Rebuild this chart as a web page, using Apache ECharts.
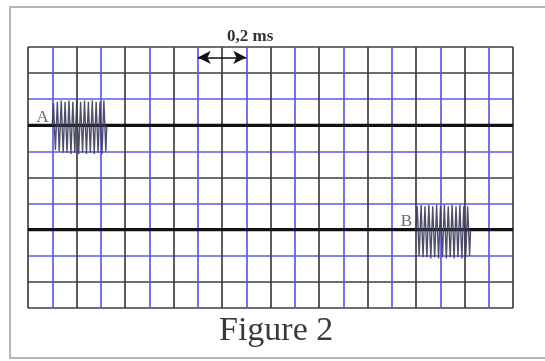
<!DOCTYPE html>
<html>
<head>
<meta charset="utf-8">
<script src="https://cdn.jsdelivr.net/npm/echarts@6/dist/echarts.min.js"></script>
<style>
html,body{margin:0;padding:0;background:#fff;}
#chart{width:545px;height:361px;}
</style>
</head>
<body>
<div id="chart"></div>
<script>
// ---- data (grid divisions) ----
var xDivisions = 20;           // horizontal divisions
var yDivisions = 10;           // vertical divisions
var traceLevels = [7, 3];      // baselines of traces A and B
var traceNames = ['A', 'B'];

// burst A (time in divisions, level in divisions)
var burstA_t = [1.00, 1.05, 1.13, 1.21, 1.29, 1.37, 1.45, 1.53, 1.61, 1.69, 1.77, 1.85, 1.93, 2.01, 2.09,
                2.17, 2.25, 2.33, 2.41, 2.49, 2.57, 2.65, 2.73, 2.81, 2.89, 2.97, 3.05, 3.13, 3.21, 3.25];
var burstA_v = [7.0, 7.85, 6.05, 7.9, 6.0, 7.95, 5.95, 7.9, 5.95, 7.95, 5.9, 7.9, 5.95, 7.95, 5.9,
                7.9, 5.95, 7.95, 5.9, 7.9, 5.95, 7.95, 5.9, 7.9, 5.95, 7.9, 5.9, 7.95, 6.0, 7.0];
// burst B
var burstB_t = [16.00, 16.05, 16.13, 16.21, 16.29, 16.37, 16.45, 16.53, 16.61, 16.69, 16.77, 16.85, 16.93, 17.01, 17.09,
                17.17, 17.25, 17.33, 17.41, 17.49, 17.57, 17.65, 17.73, 17.81, 17.89, 17.97, 18.05, 18.13, 18.21, 18.25];
var burstB_v = [3.0, 3.9, 2.0, 3.95, 1.95, 3.9, 1.95, 3.95, 1.9, 3.9, 1.95, 3.95, 1.9, 3.9, 1.95,
                3.95, 1.9, 3.9, 1.95, 3.95, 1.9, 3.9, 1.95, 3.95, 1.9, 3.9, 1.95, 3.9, 2.0, 3.0];

// label positions for A and B
var letterT = [0.6, 15.6];
var letterV = [7.3, 3.3];

// scale arrow
var arrowFrom = [7, 9.6];
var arrowTo = [9, 9.6];
var arrowText = '0,2 ms';
var figureText = 'Figure 2';

// ---- build ----
var dark = '#3f3f3f', blue = '#5a5ae8';
var yColors = [dark, dark, blue, dark, blue, dark, blue, dark, blue, dark, dark];

function zip(t, v) { return t.map(function (x, i) { return [x, v[i]]; }); }

var chart = echarts.init(document.getElementById('chart'), null, {renderer: 'canvas'});
var option = {
  animation: false,
  backgroundColor: '#ffffff',
  title: [
    {text: arrowText, left: 222, top: 23,
     textStyle: {fontFamily: 'Liberation Serif', fontWeight: 'bold', fontSize: 17, color: '#333'}},
    {text: figureText, left: 214, top: 309,
     textStyle: {fontFamily: 'Liberation Serif', fontWeight: 'normal', fontSize: 34, color: '#3a3a3a'}}
  ],
  graphic: [
    {type: 'rect', shape: {x: 10, y: 7, width: 600, height: 351},
     style: {fill: 'none', stroke: '#b4b4b4', lineWidth: 2}, z: -1}
  ],
  grid: {left: 28, top: 47, width: 485, height: 261, show: false},
  xAxis: {
    type: 'value', min: 0, max: xDivisions, interval: 1,
    axisLine: {show: false}, axisTick: {show: false}, axisLabel: {show: false},
    splitLine: {show: true, lineStyle: {color: [dark, blue], width: 1.7}}
  },
  yAxis: {
    type: 'value', min: 0, max: yDivisions, interval: 1,
    axisLine: {show: false}, axisTick: {show: false}, axisLabel: {show: false},
    splitLine: {show: true, lineStyle: {color: yColors, width: 1.7}}
  },
  series: [
    {type: 'line', name: 'traceA', data: [[0, traceLevels[0]], [xDivisions, traceLevels[0]]],
     showSymbol: false, lineStyle: {color: '#111', width: 3.2}, z: 3},
    {type: 'line', name: 'traceB', data: [[0, traceLevels[1]], [xDivisions, traceLevels[1]]],
     showSymbol: false, lineStyle: {color: '#111', width: 3.2}, z: 3},
    {type: 'line', name: 'burstA', data: zip(burstA_t, burstA_v),
     showSymbol: false, lineStyle: {color: '#3c3c5c', width: 1.4, opacity: 0.9}, z: 4},
    {type: 'line', name: 'burstB', data: zip(burstB_t, burstB_v),
     showSymbol: false, lineStyle: {color: '#3c3c5c', width: 1.4, opacity: 0.9}, z: 4},
    {type: 'scatter', name: 'letters', symbolSize: 0,
     data: letterT.map(function (t, i) { return {value: [t, letterV[i]], name: traceNames[i]}; }),
     label: {show: true, position: 'inside', formatter: '{b}',
             fontFamily: 'Liberation Serif', fontSize: 17, color: '#444'}, z: 5},
    {type: 'line', name: 'arrow', data: [], showSymbol: false,
     markLine: {silent: true, symbol: ['arrow', 'arrow'], symbolSize: [10, 13],
       lineStyle: {color: '#111', width: 1.6, type: 'solid'}, label: {show: false},
       data: [[{coord: arrowFrom}, {coord: arrowTo}]]}, z: 6}
  ]
};
chart.setOption(option);
</script>
</body>
</html>
